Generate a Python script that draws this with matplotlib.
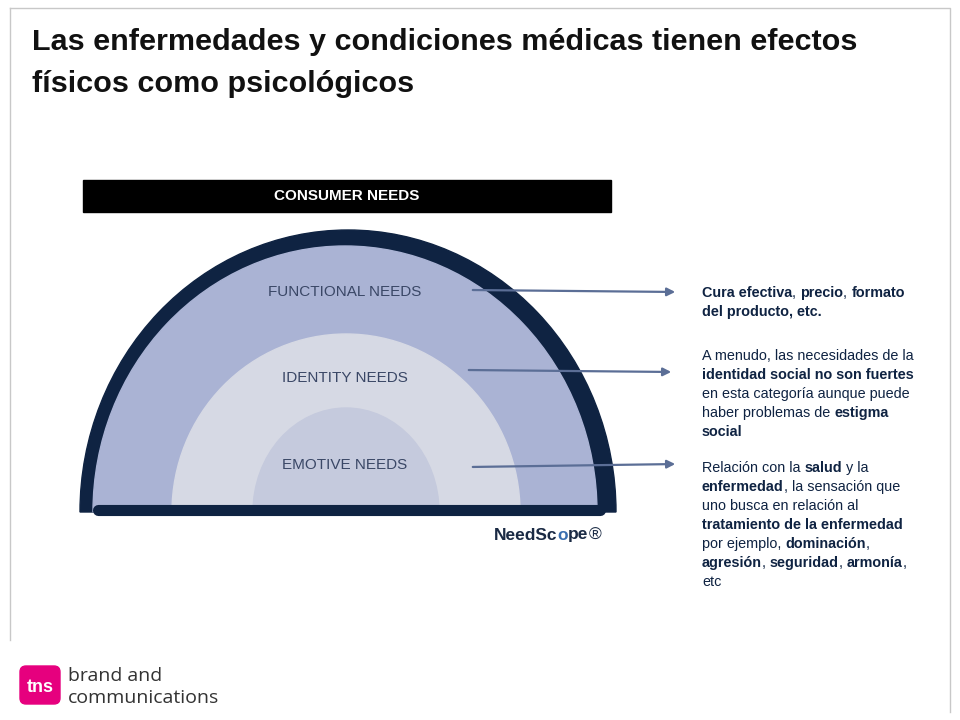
import matplotlib
matplotlib.use("Agg")
import matplotlib.pyplot as plt
from matplotlib.patches import Rectangle, FancyBboxPatch, Wedge
from matplotlib.transforms import Affine2D

title_lines = ["Las enfermedades y condiciones médicas tienen efectos", "físicos como psicológicos"]
header = "CONSUMER NEEDS"
rings = ["FUNCTIONAL NEEDS", "IDENTITY NEEDS", "EMOTIVE NEEDS"]
notes = [
    [[("Cura efectiva", True), (", ", False), ("precio", True), (", ", False), ("formato", True)],
     [("del producto, etc.", True)]],
    [[("A menudo, las necesidades de la", False)],
     [("identidad social no son fuertes", True)],
     [("en esta categoría aunque puede", False)],
     [("haber problemas de ", False), ("estigma", True)],
     [("social", True)]],
    [[("Relación con la ", False), ("salud", True), (" y la", False)],
     [("enfermedad", True), (", la sensación que", False)],
     [("uno busca en relación al", False)],
     [("tratamiento de la enfermedad", True)],
     [("por ejemplo, ", False), ("dominación", True), (",", False)],
     [("agresión", True), (", ", False), ("seguridad", True), (", ", False), ("armonía", True), (",", False)],
     [("etc", False)]],
]

fig = plt.figure(figsize=(9.6, 7.2), dpi=100)
ax = fig.add_axes([0, 0, 1, 1])
ax.set_xlim(0, 960); ax.set_ylim(720, 0); ax.axis("off")
FONT = "Liberation Sans"
fig.canvas.draw()
r = fig.canvas.get_renderer()

ax.plot([10, 950, 950], [8, 8, 712], color="#c8c8c8", lw=1)
ax.plot([10, 10], [8, 640], color="#c8c8c8", lw=1)

# title: fit first line to reference width
t0 = ax.text(32, 42, title_lines[0], fontsize=22, fontweight="bold", family=FONT,
             color="#111111", va="center", ha="left")
wpx = t0.get_window_extent(renderer=r).width
fs = 22 * 823 / wpx
t0.set_fontsize(fs)
ax.text(32, 84, title_lines[1], fontsize=fs, fontweight="bold", family=FONT,
        color="#111111", va="center", ha="left")

ax.add_patch(Rectangle((83, 180), 528, 32, color="black"))
ax.text(347, 196, header, color="white", fontsize=11, fontweight="bold", family=FONT, ha="center", va="center")

cx, cy = 348, 512
def half(x0, w, h, color, z):
    e = Wedge((0, 0), 1, 180, 360, color=color, zorder=z)
    e.set_transform(Affine2D().scale(w, h).translate(x0, cy) + ax.transData)
    ax.add_patch(e)
half(348, 268, 282, "#0f2342", 1)
half(345, 252, 266, "#aab3d4", 2)
half(346, 174, 178, "#d6d9e4", 3)
half(346, 93, 104, "#c5cadd", 4)
ax.plot([98, 600], [510, 510], color="#0f2342", lw=8, solid_capstyle="round", zorder=5)

ys = [292, 378, 465]
for t, y in zip(rings, ys):
    ax.text(345, y, t, fontsize=11, color="#3a4766", family=FONT, ha="center", va="center", zorder=6)

arrows = [((470, 290), (678, 292)), ((466, 370), (674, 372)), ((470, 467), (678, 464))]
for a, b in arrows:
    ax.annotate("", xy=b, xytext=a, arrowprops=dict(arrowstyle="-|>", color="#5b6e96", lw=1.6, mutation_scale=12), zorder=7)

def seg_line(x, y, segs, fsz=10.4):
    for s, b, *c in segs:
        t = ax.text(x, y, s, fontsize=fsz, fontweight="bold" if b else "normal",
                    color=c[0] if c else "#0f2342", family=FONT, va="center", ha="left")
        x += t.get_window_extent(renderer=r).width

seg_line(494, 535, [("NeedSc", True, "#1a2a44"), ("o", True, "#3a6fb0"), ("pe", True, "#1a2a44"), ("®", False, "#1a2a44")], 12.5)

starts = [293, 356, 468]
for st, block in zip(starts, notes):
    for j, line in enumerate(block):
        seg_line(702, st + j * 19, line)

ax.add_patch(FancyBboxPatch((20, 666), 40, 38, boxstyle="round,pad=0,rounding_size=6", color="#e6007e"))
ax.text(40, 688, "tns", color="white", fontsize=13, fontweight="bold", family=FONT, ha="center", va="center")
ax.text(68, 676, "brand and", fontsize=14, color="#333333", family="Open Sans", va="center")
ax.text(68, 698, "communications", fontsize=14, color="#333333", family="Open Sans", va="center")

fig.savefig("out.png", dpi=100)
